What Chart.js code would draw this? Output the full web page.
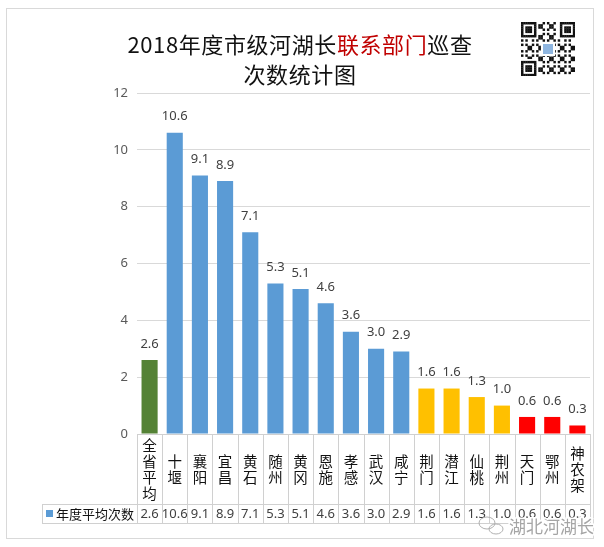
<!DOCTYPE html>
<html><head><meta charset="utf-8">
<script src="https://cdn.jsdelivr.net/npm/chart.js@4/dist/chart.umd.min.js"></script>
<style>
html,body{margin:0;padding:0;background:#fff;}
#wrap{position:relative;width:604px;height:547px;overflow:hidden;}
#frame{position:absolute;left:6px;top:8px;width:588px;height:531px;border:1px solid #d9d9d9;box-sizing:border-box;}
#c{position:absolute;left:0;top:0;}
#qr{position:absolute;left:521px;top:22px;}
.title{position:absolute;left:0;width:600px;text-align:center;font-family:"Noto Sans CJK SC";font-size:22px;color:#111;line-height:30px;white-space:nowrap;letter-spacing:0.6px;}
.red{color:#c00000;}
</style>
</head><body>
<div id="wrap">
<div id="frame"></div>
<canvas id="c" width="604" height="547"></canvas>
<div class="title" style="top:28px">2018年度市级河湖长<span class="red">联系部门</span>巡查</div>
<div class="title" style="top:58px">次数统计图</div>
<canvas id="qr" width="54" height="54"></canvas>
</div>
<script>
const categories = ['全省平均','十堰','襄阳','宜昌','黄石','随州','黄冈','恩施','孝感','武汉','咸宁','荆门','潜江','仙桃','荆州','天门','鄂州','神农架'];
const values = [2.6,10.6,9.1,8.9,7.1,5.3,5.1,4.6,3.6,3.0,2.9,1.6,1.6,1.3,1.0,0.6,0.6,0.3];
const tiers = [0,1,1,1,1,1,1,1,1,1,1,2,2,2,2,3,3,3];
const yTicks = [0,2,4,6,8,10,12];
const seriesName = '年度平均次数';
const palette = ['#548235','#5b9bd5','#ffc000','#ff0000'];

const labelsPlugin = {
  id:'vals',
  afterDatasetsDraw(chart){
    const ctx = chart.ctx;
    const meta = chart.getDatasetMeta(0);
    ctx.save();
    ctx.font = '13px "Noto Sans"';
    ctx.fillStyle = '#404040';
    ctx.textAlign = 'center';
    ctx.textBaseline = 'middle';
    meta.data.forEach((bar,i)=>{
      ctx.fillText(values[i].toFixed(1), bar.x, bar.y - 16);
    });
    ctx.restore();
  }
};

const tablePlugin = {
  id:'table',
  afterDraw(chart){
    const ctx = chart.ctx, xs = chart.scales.x, a = chart.chartArea;
    const n = categories.length;
    const step = (a.right - a.left)/n;
    const top = a.bottom, mid = top + 70, bot = mid + 19;
    const legLeft = 42;
    ctx.save();
    ctx.strokeStyle = '#d0d0d0';
    ctx.lineWidth = 1;
    ctx.beginPath();
    ctx.moveTo(a.left, top+0.5); ctx.lineTo(a.right, top+0.5);
    ctx.moveTo(legLeft, mid+0.5); ctx.lineTo(a.right, mid+0.5);
    ctx.moveTo(legLeft, bot+0.5); ctx.lineTo(a.right, bot+0.5);
    for(let i=0;i<=n;i++){
      const x = Math.round(xs.getPixelForValue(Math.min(i,n-1)) + (i<n ? -step/2 : step/2)) + 0.5;
      ctx.moveTo(x, top); ctx.lineTo(x, bot);
    }
    ctx.moveTo(legLeft+0.5, mid); ctx.lineTo(legLeft+0.5, bot);
    ctx.stroke();

    ctx.textAlign = 'center';
    ctx.textBaseline = 'middle';
    categories.forEach((c,i)=>{
      const cx = xs.getPixelForValue(i);
      const chars = [...c];
      const lh = 16;
      const y0 = (top+mid)/2 - (chars.length-1)*lh/2;
      ctx.font = '14.5px "Noto Sans CJK SC"';
      ctx.fillStyle = '#111';
      chars.forEach((ch,k)=> ctx.fillText(ch, cx, y0 + k*lh));
      ctx.font = '13px "Noto Sans"';
      ctx.fillStyle = '#404040';
      ctx.fillText(values[i].toFixed(1), cx, (mid+bot)/2 + 1);
    });
    // legend cell
    ctx.fillStyle = palette[1];
    ctx.fillRect(46, (mid+bot)/2 - 3.5, 7, 7);
    ctx.font = '13px "Noto Sans CJK SC"';
    ctx.fillStyle = '#111';
    ctx.textAlign = 'left';
    ctx.fillText(seriesName, 56, (mid+bot)/2 + 1);

    // watermark
    ctx.font = '17px "Noto Sans CJK SC"';
    ctx.lineWidth = 3;
    ctx.strokeStyle = '#ffffff';
    ctx.strokeText('湖北河湖长', 509, 527);
    ctx.fillStyle = '#a5a5a5';
    ctx.fillText('湖北河湖长', 509, 527);
    ctx.lineWidth = 1;
    ctx.strokeStyle = '#b0b0b0';
    ctx.beginPath(); ctx.ellipse(487, 523, 8, 6, 0, 0, Math.PI*2); ctx.stroke();
    ctx.beginPath(); ctx.ellipse(496, 529, 7, 5, 0, 0, Math.PI*2); ctx.stroke();
    ctx.restore();
  }
};

new Chart(document.getElementById('c').getContext('2d'), {
  type:'bar',
  data:{labels:categories, datasets:[{label:seriesName, data:values,
    backgroundColor: tiers.map(t=>palette[t]), barPercentage:0.64, categoryPercentage:1}]},
  options:{
    responsive:false, animation:false,
    layout:{padding:{top:93,right:14,bottom:113,left:0}},
    plugins:{legend:{display:false}, tooltip:{enabled:false}, title:{display:false}},
    scales:{
      x:{display:false},
      y:{min:0,max:12,
        afterBuildTicks:s=>{s.ticks = yTicks.map(v=>({value:v}));},
        ticks:{padding:9,color:'#595959',font:{size:13,family:'"Noto Sans"'}},
        grid:{color:'#d9d9d9',drawTicks:false},
        border:{display:false},
        afterFit:s=>{s.width = 137;}
      }
    }
  },
  plugins:[labelsPlugin, tablePlugin]
});

// decorative QR code
(function(){
  const q = document.getElementById('qr').getContext('2d');
  const N = 25, m = 54/N;
  q.fillStyle = '#fff'; q.fillRect(0,0,54,54);
  q.fillStyle = '#111';
  const finder = (r,c)=>{
    for(let i=0;i<7;i++)for(let j=0;j<7;j++){
      const edge = i===0||i===6||j===0||j===6;
      const core = i>=2&&i<=4&&j>=2&&j<=4;
      if(edge||core) q.fillRect((c+j)*m,(r+i)*m,m+0.3,m+0.3);
    }
  };
  const inFinder=(i,j)=>(i<8&&j<8)||(i<8&&j>=N-8)||(i>=N-8&&j<8);
  for(let i=0;i<N;i++)for(let j=0;j<N;j++){
    if(inFinder(i,j)) continue;
    if(((i*7 + j*13 + i*j*3) % 5) < 2) q.fillRect(j*m,i*m,m+0.3,m+0.3);
  }
  finder(0,0); finder(0,N-7); finder(N-7,0);
  q.fillStyle='#fff'; q.fillRect(20,20,14,14);
  q.fillStyle='#8fb6e0'; q.fillRect(22,22,10,10);
})();
</script>
</body></html>
